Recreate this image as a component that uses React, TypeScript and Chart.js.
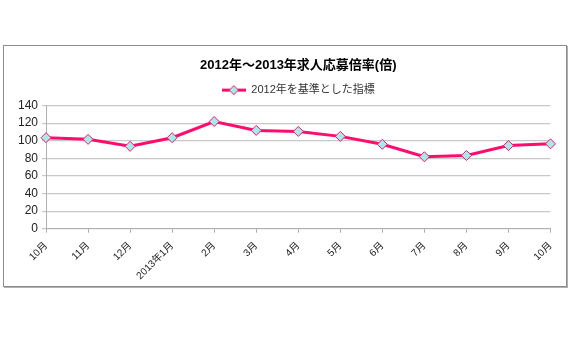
import React, { useEffect, useRef } from "react";
import { Chart, registerables } from "chart.js";

Chart.register(...registerables);

const categories: string[] = ["10月", "11月", "12月", "2013年1月", "2月", "3月", "4月", "5月", "6月", "7月", "8月", "9月", "10月"];
const seriesName = "2012年を基準とした指標";
const values: number[] = [103.5, 101.6, 93.7, 103.5, 121.9, 111.8, 110.6, 105, 96, 81.8, 83.3, 94.5, 96.5];
const titleText = "2012年～2013年求人応募倍率(倍)";
const yMin = 0;
const yMax = 140;
const yStep = 20;

const LINE = "#ff0d6e";
const FILL = "#a6eaea";
const FONT = "'Liberation Sans', Arial, 'Noto Sans CJK JP', sans-serif";

function makeLegendIcon(): HTMLCanvasElement {
  const c = document.createElement("canvas");
  c.width = 24;
  c.height = 11;
  const ctx = c.getContext("2d")!;
  ctx.strokeStyle = LINE;
  ctx.lineWidth = 3;
  ctx.beginPath();
  ctx.moveTo(0, 5.5);
  ctx.lineTo(24, 5.5);
  ctx.stroke();
  ctx.beginPath();
  ctx.moveTo(12, 1);
  ctx.lineTo(16.5, 5.5);
  ctx.lineTo(12, 10);
  ctx.lineTo(7.5, 5.5);
  ctx.closePath();
  ctx.fillStyle = FILL;
  ctx.fill();
  ctx.lineWidth = 1;
  ctx.stroke();
  return c;
}

const centerOnPlot = {
  id: "centerOnPlot",
  afterLayout(chart: any) {
    const a = chart.chartArea;
    for (const box of [chart.titleBlock, chart.legend]) {
      if (!box) continue;
      const w = box.right - box.left;
      const c = (a.left + a.right) / 2;
      box.left = c - w / 2;
      box.right = c + w / 2;
    }
  },
};

export default function App() {
  const ref = useRef<HTMLCanvasElement>(null);
  useEffect(() => {
    if (!ref.current) return;
    const icon = makeLegendIcon();
    const chart = new Chart(ref.current, {
      type: "line",
      data: {
        labels: categories,
        datasets: [
          {
            label: seriesName,
            data: values,
            borderColor: LINE,
            borderWidth: 3,
            backgroundColor: FILL,
            pointStyle: "rectRot",
            pointRadius: 5,
            pointBorderWidth: 1,
            pointBorderColor: LINE,
            pointBackgroundColor: FILL,
            tension: 0,
          },
        ],
      },
      plugins: [centerOnPlot],
      options: {
        responsive: false,
        animation: false,
        layout: { padding: { left: 10, right: 12, top: 0, bottom: 1 } },
        plugins: {
          title: {
            display: true,
            text: titleText,
            color: "#000",
            font: { family: FONT, size: 13, weight: "bold" },
            padding: { top: 12, bottom: 6 },
          },
          legend: {
            display: true,
            labels: {
              color: "#333",
              font: { family: FONT, size: 11 },
              usePointStyle: true,
              pointStyleWidth: 24,
              boxHeight: 11,
              padding: 5,
              generateLabels: (ch: any) => {
                const base = Chart.defaults.plugins.legend.labels.generateLabels(ch);
                return base.map((l: any) => ({ ...l, pointStyle: icon }));
              },
            },
          },
          tooltip: { enabled: false },
        },
        scales: {
          x: {
            offset: false,
            afterFit: (scale: any) => {
              scale.height = scale.height - 4;
            },
            grid: { drawOnChartArea: false, drawTicks: true, tickLength: 4, color: "#b0b0b0" },
            border: { color: "#b0b0b0" },
            ticks: {
              color: "#222",
              font: { family: FONT, size: 10 },
              maxRotation: 45,
              minRotation: 45,
              autoSkip: false,
              padding: 7,
            },
          },
          y: {
            min: yMin,
            max: yMax,
            grid: { color: "#c8c8c8", lineWidth: 1.2, tickLength: 4, drawTicks: true },
            border: { color: "#b0b0b0" },
            ticks: {
              stepSize: yStep,
              autoSkip: false,
              color: "#222",
              font: { family: FONT, size: 12 },
              padding: 4,
            },
          },
        },
      },
    });
    return () => chart.destroy();
  }, []);
  return (
    <div style={{ position: "absolute", left: 0, top: 0, width: 570, height: 360, background: "#fff" }}>
      <div
        style={{
          position: "absolute",
          left: 3,
          top: 45,
          width: 562,
          height: 240,
          border: "1px solid #8c8c8c",
          boxShadow: "1px 1px 0 #b0b0b0",
        }}
      >
        <canvas ref={ref} width={562} height={240} style={{ display: "block" }} />
      </div>
    </div>
  );
}
